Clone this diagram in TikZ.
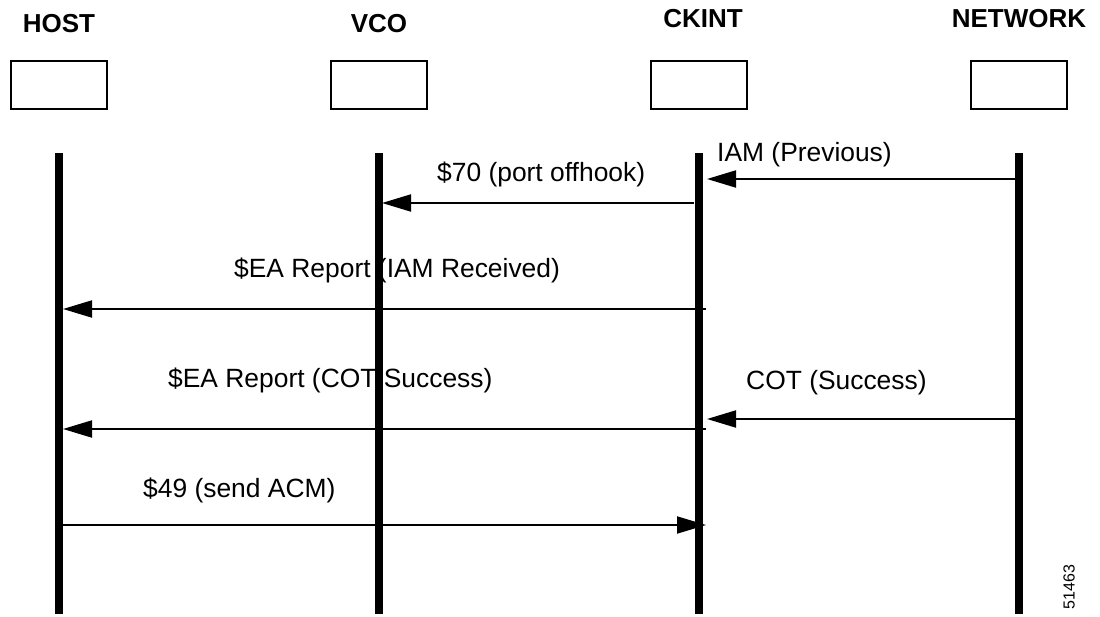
\documentclass[tikz,border=0pt]{standalone}
\usepackage{fontspec}
\setmainfont{Liberation Sans}
\usetikzlibrary{arrows.meta}
\tikzset{
  headlabel/.style={font=\fontsize{26}{30}\selectfont\bfseries, inner sep=0pt, anchor=base},
  headbox/.style={draw, line width=2pt, minimum width=96pt, minimum height=48pt, inner sep=0pt},
  lifeline/.style={line width=7.5pt},
  msg/.style={line width=2pt, -{Triangle[length=29pt,width=17pt]}},
  msglabel/.style={font=\fontsize{26.4}{30}\selectfont, inner sep=0pt, anchor=base west},
  figid/.style={font=\fontsize{16}{19}\selectfont, inner sep=0pt, rotate=90}
}
\begin{document}
\begin{tikzpicture}[x=1pt,y=-1pt]
\useasboundingbox (0,0) rectangle (1100,617);
\fill[white] (0,0) rectangle (1100,617);

% header labels
\node[headlabel] (hostlbl) at (59,33) {HOST};
\node[headlabel] (vcolbl) at (379,33) {VCO};
\node[headlabel] (ckintlbl) at (703,28) {CKINT};
\node[headlabel] (netlbl) at (1019,28) {NETWORK};

% header boxes
\node[headbox] (hostbox) at (59,85) {};
\node[headbox] (vcobox) at (379,85) {};
\node[headbox] (ckintbox) at (699,85) {};
\node[headbox] (netbox) at (1019,85) {};

% lifelines
\coordinate (hosttop) at (59,153);  \coordinate (hostbot) at (59,614);
\coordinate (vcotop) at (379,153);  \coordinate (vcobot) at (379,614);
\coordinate (ckinttop) at (699,153); \coordinate (ckintbot) at (699,614);
\coordinate (nettop) at (1019,153); \coordinate (netbot) at (1019,614);
\draw[lifeline] (hosttop) -- (hostbot);
\draw[lifeline] (vcotop) -- (vcobot);
\draw[lifeline] (ckinttop) -- (ckintbot);
\draw[lifeline] (nettop) -- (netbot);

% message end points
\coordinate (m1s) at (1019,179); \coordinate (m1e) at (707,179);
\coordinate (m2s) at (694,203);  \coordinate (m2e) at (382,203);
\coordinate (m3s) at (706,309);  \coordinate (m3e) at (63,309);
\coordinate (m4s) at (1019,419); \coordinate (m4e) at (707,419);
\coordinate (m5s) at (706,429);  \coordinate (m5e) at (63,429);
\coordinate (m6s) at (63,525);   \coordinate (m6e) at (706,525);

\draw[msg] (m1s) -- (m1e);
\draw[msg] (m2s) -- (m2e);
\draw[msg] (m3s) -- (m3e);
\draw[msg] (m4s) -- (m4e);
\draw[msg] (m5s) -- (m5e);
\draw[msg] (m6s) -- (m6e);

% message labels
\node[msglabel] (l1) at (717,162) {IAM (Previous)};
\node[msglabel] (l2) at (437,182) {\$70 (port offhook)};
\node[msglabel] (l3) at (234,278) {\$EA Report (IAM Received)};
\node[msglabel] (l4) at (746,389) {COT (Success)};
\node[msglabel] (l5) at (168,388) {\$EA Report (COT Success)};
\node[msglabel] (l6) at (143,497) {\$49 (send ACM)};

% figure id
\node[figid] (fid) at (1069,587) {51463};
\end{tikzpicture}
\end{document}
